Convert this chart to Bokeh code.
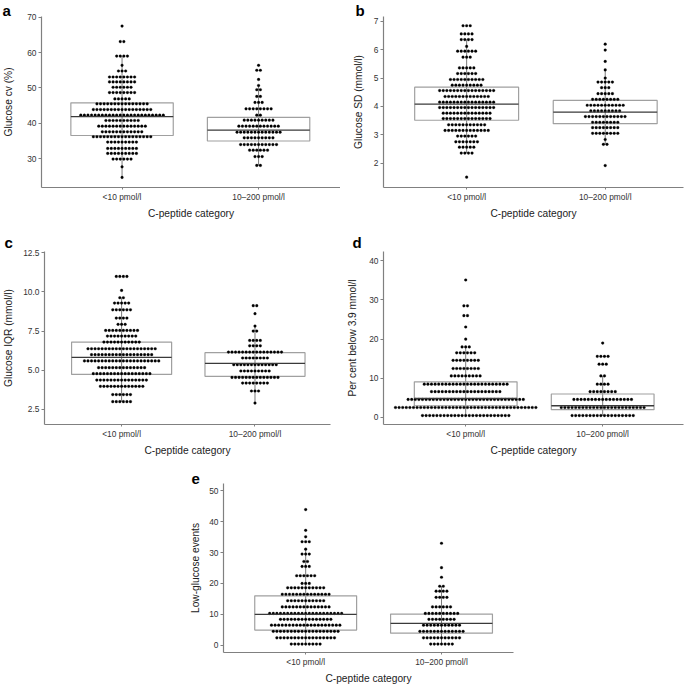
import numpy as np
from bokeh.plotting import figure
from bokeh.models import FixedTicker, PrintfTickFormatter, Spacer
from bokeh.layouts import row, column
from bokeh.embed import file_html
from bokeh.resources import INLINE

S = 1.0
FONT = "Liberation Sans"

categories = ["<10 pmol/l", "10–200 pmol/l"]
x_label = "C-peptide category"

# ---------------- data (row value, number of dots in row) ----------------
a_g1_y = [67.5, 63.1, 59.0, 56.4, 54.8, 53.1, 51.7, 50.2, 48.7, 46.9, 45.5, 43.9, 42.3, 40.8, 39.2, 37.6, 36.2, 34.7, 32.9, 31.5, 29.9, 27.7, 24.7]
a_g1_n = [1, 2, 4, 1, 3, 8, 8, 6, 8, 5, 15, 17, 24, 10, 14, 12, 17, 9, 9, 9, 6, 1, 1]
a_g2_y = [56.4, 55.0, 52.4, 50.7, 49.5, 47.6, 45.9, 44.1, 42.3, 40.9, 39.2, 37.5, 35.9, 34.0, 32.4, 30.6, 28.1]
a_g2_n = [1, 2, 1, 1, 2, 2, 3, 8, 2, 9, 12, 13, 9, 11, 6, 3, 2]
a_box = [(36.56, 41.9, 45.8), (35.0, 38.1, 41.7)]

b_g1_y = [6.85, 6.56, 6.36, 6.12, 5.95, 5.74, 5.36, 5.16, 4.95, 4.75, 4.56, 4.35, 4.15, 3.96, 3.76, 3.57, 3.35, 3.15, 2.95, 2.75, 2.56, 2.35, 1.50]
b_g1_n = [3, 4, 4, 1, 6, 3, 5, 6, 10, 9, 16, 13, 16, 16, 14, 14, 11, 13, 6, 7, 5, 4, 1]
b_g2_y = [6.20, 5.99, 5.59, 5.29, 5.00, 4.86, 4.66, 4.45, 4.25, 4.04, 3.84, 3.64, 3.44, 3.25, 3.05, 2.83, 2.66, 1.91]
b_g2_n = [1, 1, 1, 1, 1, 5, 3, 5, 8, 11, 9, 12, 8, 8, 8, 1, 2, 1]
b_box = [(3.51, 4.08, 4.68), (3.39, 3.80, 4.21)]

c_g1_y = [10.99, 10.10, 9.63, 9.29, 8.86, 8.33, 7.93, 7.54, 7.18, 6.80, 6.37, 5.99, 5.59, 5.16, 4.78, 4.37, 3.97, 3.44, 2.99]
c_g1_n = [4, 1, 2, 5, 6, 4, 3, 10, 9, 11, 20, 18, 22, 14, 17, 15, 13, 6, 6]
c_g2_y = [9.12, 8.61, 7.82, 7.50, 6.90, 6.56, 6.16, 5.78, 5.35, 4.95, 4.54, 4.18, 3.67, 2.90]
c_g2_n = [2, 1, 1, 2, 4, 4, 16, 8, 13, 9, 14, 8, 3, 1]
c_box = [(4.73, 5.82, 6.80), (4.61, 5.44, 6.12)]

d_g1_y = [35.1, 28.5, 26.0, 23.1, 20.0, 18.0, 16.5, 14.6, 12.5, 10.6, 8.5, 6.6, 4.6, 2.55, 0.5]
d_g1_n = [1, 2, 2, 1, 1, 3, 6, 8, 8, 9, 24, 20, 33, 40, 25]
d_g2_y = [19.0, 15.6, 13.6, 10.6, 8.5, 6.6, 4.6, 2.55, 0.5]
d_g2_n = [1, 4, 3, 2, 4, 8, 17, 24, 18]
d_box = [(3.0, 4.9, 9.1), (2.0, 3.0, 6.0)]

e_g1_y = [43.9, 37.2, 35.1, 33.5, 31.1, 29.5, 27.1, 25.5, 22.5, 20.0, 18.6, 16.5, 14.4, 12.4, 10.3, 8.4, 6.5, 4.5, 2.4, 0.4]
e_g1_n = [1, 1, 1, 3, 1, 3, 2, 3, 6, 3, 11, 14, 11, 14, 21, 15, 20, 19, 17, 9]
e_g2_y = [33.0, 25.1, 22.0, 19.1, 17.5, 15.5, 12.4, 10.3, 8.4, 6.5, 4.5, 2.4, 0.4]
e_g2_n = [1, 1, 1, 2, 4, 4, 6, 10, 8, 11, 13, 11, 7]
e_box = [(4.9, 10.0, 16.0), (3.9, 7.1, 10.1)]

a_ticks = [30, 40, 50, 60, 70]
b_ticks = [2, 3, 4, 5, 6, 7]
c_ticks = [2.5, 5.0, 7.5, 10.0, 12.5]
d_ticks = [0, 10, 20, 30, 40]
e_ticks = [0, 10, 20, 30, 40, 50]


def whiskers(ys, ns, q1, q3):
    vals = np.repeat(ys, ns)
    iqr = q3 - q1
    lo = vals[vals >= q1 - 1.5 * iqr].min()
    hi = vals[vals <= q3 + 1.5 * iqr].max()
    return lo, hi


def panel(letter, ylabel, groups, boxes, yticks, yrange, xrange, W, H, left, right, top, bottom,
          letter_dx, letter_standoff, ylab_standoff, yfmt=None):
    Ws, Hs = round(W * S), round(H * S)
    ls, rs, ts, bs = round(left * S), round(right * S), round(top * S), round(bottom * S)
    fw = Ws - ls - rs
    p = figure(width=Ws, height=Hs, output_backend="svg", toolbar_location=None,
               x_range=xrange, y_range=yrange,
               min_border_left=ls, min_border_right=rs, min_border_top=ts, min_border_bottom=bs)
    p.outline_line_color = None
    p.grid.visible = False
    p.background_fill_color = "white"

    p.title.text = letter
    p.title.align = "left"
    p.title.offset = letter_dx
    p.title.standoff = letter_standoff
    p.title.text_font = FONT
    p.title.text_font_style = "bold"
    p.title.text_font_size = f"{15 * S:.1f}px"
    p.title.text_line_height = 0.9
    p.title.text_color = "black"

    dx = 3.6 * S / (fw / (xrange[1] - xrange[0]))
    bw = 0.75
    for k, ((ys, ns), (q1, med, q3)) in enumerate(zip(groups, boxes)):
        c = k + 1
        lo, hi = whiskers(ys, ns, q1, q3)
        p.segment(x0=[c], y0=[lo], x1=[c], y1=[hi], line_color="#7a7a7a", line_width=1)
        p.quad(left=[c - bw / 2], right=[c + bw / 2], bottom=[q1], top=[q3],
               fill_color=None, line_color="#a0a0a0", line_width=1.2)
        xs, yy = [], []
        for y, n in zip(ys, ns):
            for i in range(n):
                xs.append(c + (i - (n - 1) / 2) * dx)
                yy.append(y)
        p.scatter(x=xs, y=yy, size=2.7 * S, marker="circle", fill_color="black", line_color="black", line_width=0.3)
        p.segment(x0=[c - bw / 2], y0=[med], x1=[c + bw / 2], y1=[med], line_color="#3a3a3a", line_width=1.3)

    p.xaxis.ticker = FixedTicker(ticks=[1, 2])
    p.xaxis.major_label_overrides = {1: categories[0], 2: categories[1]}
    p.yaxis.ticker = FixedTicker(ticks=yticks)
    if yfmt:
        p.yaxis.formatter = PrintfTickFormatter(format=yfmt)
    for ax in (p.xaxis[0], p.yaxis[0]):
        ax.axis_line_color = "#808080"
        ax.axis_line_width = 1.2
        ax.major_tick_line_color = "#808080"
        ax.minor_tick_line_color = None
        ax.major_tick_in = 0
        ax.major_label_text_font = FONT
        ax.major_label_text_font_size = f"{8.4 * S:.1f}px"
        ax.major_label_text_color = "#333333"
        ax.axis_label_text_font = FONT
        ax.axis_label_text_font_size = f"{10.2 * S:.1f}px"
        ax.axis_label_text_font_style = "normal"
        ax.axis_label_text_color = "#222222"
    p.yaxis.major_tick_out = 3
    p.yaxis.major_label_standoff = 2
    p.xaxis.major_tick_out = 2
    p.xaxis.major_label_standoff = 2
    p.xaxis.axis_label = x_label
    p.xaxis.axis_label_standoff = 3
    p.yaxis.axis_label = ylabel
    p.yaxis.axis_label_standoff = ylab_standoff
    return p


pa = panel("a", "Glucose cv (%)", [(a_g1_y, a_g1_n), (a_g2_y, a_g2_n)], a_box, a_ticks,
           (21.86, 70.2), (0.41, 2.6), 340, 225, 40, 0, 15, 38, -39, -4, 10)
pb = panel("b", "Glucose SD (mmol/l)", [(b_g1_y, b_g1_n), (b_g2_y, b_g2_n)], b_box, b_ticks,
           (1.135, 7.176), (0.40, 2.565), 345, 225, 43, 2, 16, 37, -28, -4, 7)
pc = panel("c", "Glucose IQR (mmol/l)", [(c_g1_y, c_g1_n), (c_g2_y, c_g2_n)], c_box, c_ticks,
           (1.53, 12.585), (0.422, 2.566), 340, 235, 39, 10, 26, 36, -40, 1, 6, yfmt="%.1f")
pd = panel("d", "Per cent below 3.9 mmol/l", [(d_g1_y, d_g1_n), (d_g2_y, d_g2_n)], d_box, d_ticks,
           (-1.79, 42.37), (0.40, 2.59), 345, 235, 43, 2, 26, 36, -31, 1, 8)
pe = panel("e", "Low-glucose events", [(e_g1_y, e_g1_n), (e_g2_y, e_g2_n)], e_box, e_ticks,
           (-2.34, 52.34), (0.395, 2.53), 345, 226, 43, 12, 23, 31, -32, 0, 5)

layout = column(row(pa, pb), row(pc, pd), row(Spacer(width=round(180 * S), height=round(226 * S)), pe))

open("out.html", "w").write(file_html(layout, INLINE))
